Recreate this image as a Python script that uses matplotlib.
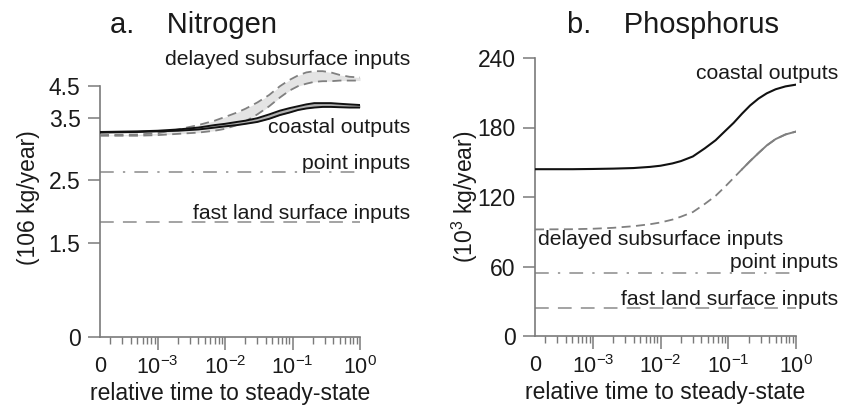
import matplotlib
matplotlib.use("Agg")
import matplotlib.pyplot as plt

plt.rcParams['font.family'] = ['Liberation Sans', 'DejaVu Sans']
plt.rcParams['mathtext.fontset'] = 'custom'
plt.rcParams['mathtext.rm'] = 'Liberation Sans'
plt.rcParams['mathtext.it'] = 'Liberation Sans:italic'
plt.rcParams['mathtext.bf'] = 'Liberation Sans:bold'

# ---------------- data ----------------
t = [1.4e-4, 5e-4, 1e-3, 2e-3, 4e-3, 7e-3, 0.01, 0.015, 0.02, 0.03, 0.045, 0.065,
     0.09, 0.12, 0.16, 0.21, 0.28, 0.37, 0.5, 0.7, 1.0]

# Nitrogen (10^6 kg/year)
n_coastal_hi = [3.27, 3.28, 3.29, 3.31, 3.34, 3.38, 3.40, 3.43, 3.45, 3.49, 3.55, 3.61,
                3.65, 3.68, 3.71, 3.73, 3.73, 3.73, 3.72, 3.71, 3.70]
n_coastal_lo = [3.26, 3.27, 3.28, 3.29, 3.31, 3.34, 3.36, 3.38, 3.40, 3.43, 3.48, 3.54,
                3.58, 3.62, 3.645, 3.66, 3.67, 3.67, 3.665, 3.66, 3.66]
n_delayed_hi = [3.22, 3.23, 3.25, 3.31, 3.38, 3.45, 3.51, 3.58, 3.64, 3.74, 3.86, 4.00,
                4.10, 4.17, 4.22, 4.24, 4.24, 4.22, 4.18, 4.15, 4.14]
n_delayed_lo = [3.21, 3.21, 3.22, 3.24, 3.26, 3.29, 3.32, 3.38, 3.44, 3.55, 3.68, 3.82,
                3.93, 4.00, 4.04, 4.07, 4.08, 4.08, 4.09, 4.09, 4.09]
n_point = 2.63
n_fast = 1.83

# Phosphorus (10^3 kg/year)
p_coastal = [144, 144, 144.2, 144.5, 145, 146, 147, 149, 151, 155, 162, 169,
             177, 184, 192, 199, 205, 209.5, 213, 215.5, 217]
p_delayed = [92, 92.2, 92.6, 93.4, 94.8, 96.5, 98, 100.5, 103, 107, 114, 121,
             129, 136.5, 144, 151, 158, 164.5, 170, 174, 176.5]
p_point = 54
p_fast = 24

t_solid_start = 0.16  # portion of P delayed curve drawn solid

xticks = [1.4e-4, 1e-3, 1e-2, 1e-1, 1.0]
xticklabels = ['0', '$10^{-3}$', '$10^{-2}$', '$10^{-1}$', '$10^{0}$']
n_yticks = [0, 1.5, 2.5, 3.5, 4.0]
n_yticklabels = ['0', '1.5', '2.5', '3.5', '4.5']
p_yticks = [0, 60, 120, 180, 240]
p_yticklabels = ['0', '60', '120', '180', '240']

W, H = 841, 408
fig = plt.figure(figsize=(W / 100, H / 100), dpi=100)

axc = '#7a7a7a'
txtc = '#1a1a1a'


def style_axes(ax, yticks, yticklabels, ylim, ytop):
    ax.set_xscale('log')
    ax.set_xlim(1.4e-4, 1.0)
    ax.set_ylim(*ylim)
    for s in ['top', 'right']:
        ax.spines[s].set_visible(False)
    for s in ['left', 'bottom']:
        ax.spines[s].set_color(axc)
        ax.spines[s].set_linewidth(1.2)
    ax.spines['left'].set_bounds(0, ytop)
    ax.set_xticks(xticks)
    ax.set_xticklabels(xticklabels)
    minors = []
    for d in [1e-4, 1e-3, 1e-2, 1e-1]:
        for m in range(2, 10):
            v = m * d
            if 1.4e-4 < v < 1.0:
                minors.append(v)
    ax.set_xticks(minors, minor=True)
    ax.set_xticklabels([], minor=True)
    ax.tick_params(axis='x', which='major', length=9, width=1.1, color=axc,
                   labelsize=15.5, pad=5, labelcolor=txtc)
    ax.tick_params(axis='x', which='minor', length=5, width=1.0, color=axc)
    ax.xaxis.get_major_ticks()[0].tick1line.set_visible(False)
    ax.set_yticks(yticks)
    ax.set_yticklabels(yticklabels)
    ax.tick_params(axis='y', length=9, width=1.1, color=axc, labelsize=16.5,
                   pad=5, labelcolor=txtc)
    ax.set_xlabel('relative time to steady-state', fontsize=16.5, color=txtc, labelpad=2)


# ---------- panel a ----------
axa = fig.add_axes([100 / W, (H - 337) / H, 260 / W, 279 / H])
style_axes(axa, n_yticks, n_yticklabels, (0, 4.45), 4.0)
axa.fill_between(t, n_delayed_lo, n_delayed_hi, color='#e4e4e4', lw=0, zorder=1)
axa.plot(t, n_delayed_hi, color='#808080', lw=1.3, ls=(0, (5, 3)), zorder=2)
axa.plot(t, n_delayed_lo, color='#808080', lw=1.3, ls=(0, (5, 3)), zorder=2)
axa.fill_between(t, n_coastal_lo, n_coastal_hi, color='#b0b0b0', lw=0, zorder=3)
axa.plot(t, n_coastal_hi, color='#111111', lw=1.4, zorder=4)
axa.plot(t, n_coastal_lo, color='#111111', lw=1.4, zorder=4)
axa.plot([t[0], t[-1]], [n_point, n_point], color='#8a8a8a', lw=1.1,
         ls=(0, (9, 6, 1.5, 6)))
axa.plot([t[0], t[-1]], [n_fast, n_fast], color='#8a8a8a', lw=1.1, ls=(0, (9, 6)))
axa.set_ylabel('(106 kg/year)', fontsize=16.5, color=txtc, labelpad=6)

fs = 15.2
axa.text(5.5, 4.34, 'delayed subsurface inputs', ha='right', va='baseline', fontsize=fs, color=txtc, clip_on=False)
axa.text(5.5, 3.25, 'coastal outputs', ha='right', va='baseline', fontsize=fs, color=txtc, clip_on=False)
axa.text(5.5, 2.68, 'point inputs', ha='right', va='baseline', fontsize=fs, color=txtc, clip_on=False)
axa.text(5.5, 1.88, 'fast land surface inputs', ha='right', va='baseline', fontsize=fs, color=txtc, clip_on=False)

# ---------- panel b ----------
axb = fig.add_axes([535 / W, (H - 336) / H, 261 / W, 278 / H])
style_axes(axb, p_yticks, p_yticklabels, (0, 240), 240)
axb.plot(t, p_coastal, color='#111111', lw=1.5, zorder=4)
axb.plot(t, p_delayed, color='#808080', lw=1.3, ls=(0, (5, 3)), zorder=2)
ts = [x for x in t if x >= t_solid_start]
ps = [p for x, p in zip(t, p_delayed) if x >= t_solid_start]
axb.plot(ts, ps, color='#808080', lw=1.4, zorder=3)
axb.plot([t[0], t[-1]], [p_point, p_point], color='#8a8a8a', lw=1.1,
         ls=(0, (9, 6, 1.5, 6)))
axb.plot([t[0], t[-1]], [p_fast, p_fast], color='#8a8a8a', lw=1.1, ls=(0, (9, 6)))
axb.set_ylabel('(10$^{3}$ kg/year)', fontsize=16.5, color=txtc, labelpad=-2)

axb.text(4.2, 222, 'coastal outputs', ha='right', va='baseline', fontsize=fs, color=txtc, clip_on=False)
axb.text(1.55e-4, 78.5, 'delayed subsurface inputs', ha='left', va='baseline', fontsize=fs, color=txtc, clip_on=False)
axb.text(4.2, 59, 'point inputs', ha='right', va='baseline', fontsize=fs, color=txtc, clip_on=False)
axb.text(4.2, 27, 'fast land surface inputs', ha='right', va='baseline', fontsize=fs, color=txtc, clip_on=False)

# titles
fig.text(110 / W, 1 - 25 / H, 'a.    Nitrogen', fontsize=21, color=txtc, ha='left', va='center')
fig.text(567 / W, 1 - 25 / H, 'b.    Phosphorus', fontsize=21, color=txtc, ha='left', va='center')

fig.savefig('out.png', dpi=100, facecolor='white')
